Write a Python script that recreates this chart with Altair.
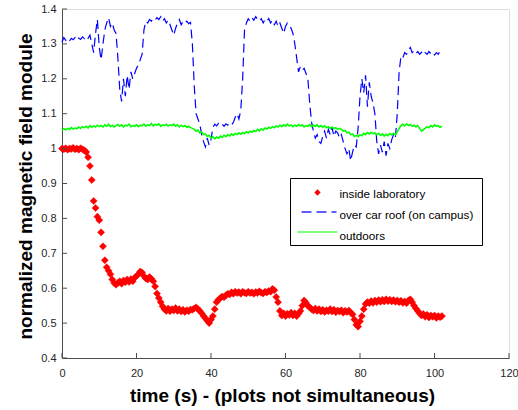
import altair as alt
import pandas as pd

blue_v = [
    1.305, 1.318, 1.31, 1.315, 1.308, 1.316, 1.312, 1.318, 1.31, 1.317,
    1.313, 1.32, 1.315, 1.322, 1.316, 1.325, 1.30, 1.275, 1.33, 1.37,
    1.29, 1.255, 1.30, 1.34, 1.36, 1.375, 1.35, 1.36, 1.34, 1.33,
    1.26, 1.17, 1.135, 1.20, 1.15, 1.21, 1.17, 1.22, 1.20, 1.215,
    1.23, 1.24, 1.255, 1.27, 1.34, 1.365, 1.36, 1.37, 1.365, 1.372,
    1.368, 1.375, 1.37, 1.378, 1.365, 1.372, 1.36, 1.368, 1.355, 1.34,
    1.325, 1.345, 1.36, 1.37, 1.355, 1.365, 1.36, 1.365, 1.358, 1.362,
    1.30, 1.18, 1.10, 1.085, 1.07, 1.04, 1.02, 1.005, 1.03, 1.01,
    1.025, 1.06, 1.07, 1.065, 1.072, 1.066, 1.07, 1.064, 1.071, 1.067,
    1.073, 1.068, 1.075, 1.09, 1.10, 1.085, 1.11, 1.20, 1.34, 1.36,
    1.372, 1.365, 1.375, 1.368, 1.378, 1.37, 1.365, 1.372, 1.36, 1.37,
    1.365, 1.373, 1.36, 1.368, 1.355, 1.365, 1.35, 1.36, 1.345, 1.33,
    1.35, 1.36, 1.355, 1.345, 1.33, 1.30, 1.26, 1.22, 1.235, 1.225,
    1.23, 1.215, 1.20, 1.13, 1.075, 1.05, 1.03, 1.04, 1.02, 1.015,
    1.035, 1.05, 1.03, 1.055, 1.04, 1.06, 1.035, 1.05, 1.045, 1.03,
    1.04, 1.02, 1.0, 0.985, 1.0, 0.965, 0.99, 1.01, 1.005, 1.06,
    1.15, 1.20, 1.16, 1.21, 1.12, 1.19, 1.15, 1.13, 1.10, 1.02,
    0.985, 1.01, 0.99, 1.02, 0.98, 1.015, 1.0, 1.025, 1.04, 1.03,
    1.10, 1.22, 1.265, 1.26, 1.275, 1.27, 1.28, 1.29, 1.275, 1.28,
    1.272, 1.278, 1.27, 1.276, 1.268, 1.275, 1.27, 1.278, 1.272, 1.276,
    1.268, 1.275, 1.27, 1.28, 1.272,
]

green_v = [
    1.052, 1.057, 1.054, 1.058, 1.055, 1.06, 1.056, 1.059, 1.057, 1.062,
    1.058, 1.063, 1.06, 1.064, 1.059, 1.066, 1.061, 1.065, 1.062, 1.067,
    1.063, 1.066, 1.062, 1.068, 1.064, 1.07, 1.063, 1.067, 1.062, 1.066,
    1.069, 1.064, 1.068, 1.062, 1.067, 1.065, 1.07, 1.063, 1.066, 1.064,
    1.068, 1.063, 1.067, 1.065, 1.07, 1.064, 1.068, 1.066, 1.072, 1.065,
    1.069, 1.067, 1.071, 1.064, 1.068, 1.066, 1.07, 1.065, 1.068, 1.066,
    1.07, 1.064, 1.068, 1.062, 1.067, 1.063, 1.066, 1.061, 1.064, 1.06,
    1.058, 1.055, 1.05, 1.053, 1.045, 1.048, 1.04, 1.042, 1.035, 1.038,
    1.03, 1.034, 1.028, 1.033, 1.03, 1.036, 1.032, 1.038, 1.034, 1.04,
    1.036, 1.042, 1.038, 1.043, 1.04, 1.045, 1.041, 1.046, 1.043, 1.048,
    1.045, 1.05, 1.047, 1.052, 1.049, 1.055, 1.051, 1.057, 1.053, 1.059,
    1.056, 1.061, 1.058, 1.063, 1.06, 1.065, 1.062, 1.067, 1.063, 1.068,
    1.064, 1.07, 1.065, 1.068, 1.063, 1.067, 1.064, 1.069, 1.065, 1.068,
    1.062, 1.066, 1.064, 1.069, 1.063, 1.067, 1.064, 1.068, 1.062, 1.066,
    1.061, 1.065, 1.06, 1.063, 1.058, 1.062, 1.057, 1.06, 1.055, 1.058,
    1.055, 1.05, 1.052, 1.045, 1.047, 1.04, 1.042, 1.035, 1.038, 1.034,
    1.04, 1.037, 1.044, 1.04, 1.046, 1.042, 1.047, 1.043, 1.045, 1.04,
    1.044, 1.038, 1.042, 1.036, 1.041, 1.037, 1.043, 1.039, 1.044, 1.04,
    1.048, 1.058, 1.066, 1.07, 1.065, 1.071, 1.066, 1.069, 1.064, 1.067,
    1.062, 1.066, 1.058, 1.05, 1.054, 1.058, 1.063, 1.06, 1.066, 1.062,
    1.068, 1.064, 1.066, 1.061, 1.064,
]

red_v = [
    1.0, 0.998, 1.001, 0.997, 1.0, 0.999, 1.002, 0.998, 1.0, 0.997,
    1.001, 0.998, 0.995, 0.99, 0.975, 0.95, 0.91, 0.85, 0.83, 0.805,
    0.795, 0.76, 0.72, 0.68, 0.66, 0.65, 0.64, 0.625, 0.615, 0.61,
    0.615, 0.62, 0.613, 0.622, 0.617, 0.625, 0.618, 0.626, 0.62, 0.63,
    0.635, 0.64, 0.648, 0.645, 0.635, 0.628, 0.625, 0.632, 0.627, 0.62,
    0.605, 0.585, 0.572, 0.56, 0.548, 0.54, 0.535, 0.542, 0.534, 0.54,
    0.536, 0.543, 0.535, 0.54, 0.533, 0.538, 0.532, 0.537, 0.534, 0.539,
    0.538, 0.542, 0.545, 0.54, 0.535, 0.528, 0.52, 0.514, 0.507, 0.50,
    0.51, 0.52, 0.54, 0.56, 0.567, 0.572, 0.576, 0.574, 0.58, 0.584,
    0.582, 0.588, 0.584, 0.59, 0.586, 0.589, 0.584, 0.59, 0.587, 0.585,
    0.59, 0.586, 0.588, 0.584, 0.589, 0.586, 0.591, 0.587, 0.585, 0.59,
    0.588, 0.592, 0.59, 0.598, 0.594, 0.575, 0.56, 0.535, 0.522, 0.528,
    0.52, 0.527, 0.523, 0.53, 0.522, 0.528, 0.52, 0.527, 0.535, 0.55,
    0.565, 0.558, 0.55, 0.545, 0.54, 0.536, 0.542, 0.535, 0.54, 0.533,
    0.538, 0.532, 0.537, 0.534, 0.54, 0.533, 0.538, 0.531, 0.536, 0.533,
    0.537, 0.53, 0.535, 0.532, 0.536, 0.53, 0.525, 0.51, 0.495, 0.49,
    0.505, 0.52, 0.54, 0.555, 0.56, 0.557, 0.563, 0.558, 0.565, 0.56,
    0.566, 0.561, 0.567, 0.562, 0.568, 0.563, 0.567, 0.562, 0.566, 0.561,
    0.565, 0.56, 0.564, 0.558, 0.562, 0.557, 0.565, 0.568, 0.56, 0.55,
    0.542, 0.535, 0.528, 0.522, 0.526, 0.518, 0.524, 0.516, 0.522, 0.518,
    0.522, 0.515, 0.52, 0.517, 0.52,
]

x_ticks = [0, 20, 40, 60, 80, 100, 120]
y_ticks = [0.4, 0.5, 0.6, 0.7, 0.8, 0.9, 1.0, 1.1, 1.2, 1.3, 1.4]
legend_labels = ["inside laboratory", "over car roof (on campus)", "outdoors"]
x_title = "time (s) - (plots not simultaneous)"
y_title = "normalized magnetic field module"
SAMPLE_STEP = 0.5


def frame(vals):
    return pd.DataFrame({"t": [i * SAMPLE_STEP for i in range(len(vals))], "v": vals})


W, H = 447, 349
FONT = "Liberation Sans"
AX = "#4d4d4d"
BLUE, GREEN, RED = "#0000ff", "#00ff00", "#ff0000"

xs = alt.Scale(domain=[0, 120], nice=False, zero=False)
ys = alt.Scale(domain=[0.4, 1.4], nice=False, zero=False)

x_axis = alt.Axis(
    values=x_ticks, format="d", ticks=False, grid=False, labelFlush=False,
    labelOverlap=False,
    labelPadding=9, labelFontSize=11, labelFont=FONT, labelColor="#262626",
    domainColor=AX, title=x_title, titleFont=FONT, titleFontSize=19,
    titleFontWeight="bold", titleColor="black", titleX=220, titleY=43,
    titleAlign="center", titleBaseline="alphabetic",
)
y_axis = alt.Axis(
    values=y_ticks, format=".1~f", ticks=False, grid=False, labelFlush=False,
    labelOverlap=False,
    labelPadding=6, labelFontSize=11, labelFont=FONT, labelColor="#262626",
    domainColor=AX, title=y_title, titleFont=FONT, titleFontSize=19,
    titleFontWeight="bold", titleColor="black", titleX=-31, titleY=177,
    titleAngle=270, titleAlign="center", titleBaseline="alphabetic",
)

red = alt.Chart(frame(red_v)).mark_point(
    shape="diamond", filled=True, size=50, fill=RED, stroke=RED, strokeWidth=0.5, opacity=1
).encode(
    x=alt.X("t:Q", scale=xs, axis=x_axis),
    y=alt.Y("v:Q", scale=ys, axis=y_axis),
)

blue = alt.Chart(frame(blue_v)).mark_line(
    stroke=BLUE, strokeWidth=1.2, strokeDash=[9, 5]
).encode(x=alt.X("t:Q", scale=xs, axis=x_axis), y=alt.Y("v:Q", scale=ys, axis=y_axis))

green = alt.Chart(frame(green_v)).mark_line(
    stroke=GREEN, strokeWidth=1.6
).encode(x=alt.X("t:Q", scale=xs, axis=x_axis), y=alt.Y("v:Q", scale=ys, axis=y_axis))

ytick_layer = alt.Chart(pd.DataFrame({"v": y_ticks})).mark_rule(stroke=AX).encode(
    y=alt.Y("v:Q", scale=ys, axis=y_axis), x=alt.value(0), x2=alt.value(5)
)
xtick_layer = alt.Chart(pd.DataFrame({"t": x_ticks})).mark_rule(stroke=AX).encode(
    x=alt.X("t:Q", scale=xs, axis=x_axis), y=alt.value(H), y2=alt.value(H - 5)
)

one = alt.Data(values=[{}])
box = alt.Chart(one).mark_rect(fill="white", stroke="black", strokeWidth=1).encode(
    x=alt.value(228.5), x2=alt.value(420.5), y=alt.value(169.5), y2=alt.value(236.5)
)
leg_red = alt.Chart(one).mark_point(
    shape="diamond", filled=True, size=40, fill=RED, opacity=1
).encode(x=alt.value(255.5), y=alt.value(183.5))
leg_blue = alt.Chart(one).mark_rule(
    strokeWidth=1.3, strokeDash=[10, 5]
).encode(x=alt.value(239.5), x2=alt.value(274.5), y=alt.value(203), color=alt.value("#2a2aff"))
leg_green = alt.Chart(one).mark_rule(strokeWidth=1.2).encode(
    x=alt.value(235.5), x2=alt.value(275.5), y=alt.value(223), color=alt.value(GREEN)
)
leg_text = [
    alt.Chart(one).mark_text(
        align="left", baseline="middle", font=FONT, fontSize=11.7, color="black"
    ).encode(x=alt.value(277.5), y=alt.value(yy), text=alt.value(lbl))
    for lbl, yy in zip(legend_labels, [185, 206, 227])
]

chart = alt.layer(
    red, blue, green, ytick_layer, xtick_layer, box, leg_red, leg_blue, leg_green, *leg_text
).properties(
    width=W, height=H,
    padding={"left": 62, "top": 9, "right": 9, "bottom": 52},
    autosize=alt.AutoSizeParams(type="none"),
).configure_view(stroke=None).configure(background="white").configure_axis(
    labelOverlap=False, labelBound=False
)

chart.save("out.html", embed_options={"renderer": "svg", "actions": False})
